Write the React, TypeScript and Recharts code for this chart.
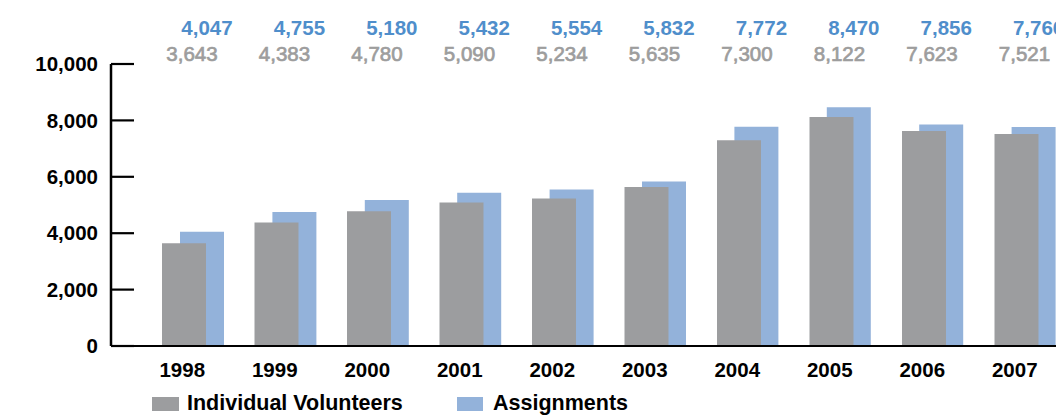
import React from 'react';
import { BarChart, Bar, XAxis, YAxis, LabelList } from 'recharts';

// values
const years = ['1998', '1999', '2000', '2001', '2002', '2003', '2004', '2005', '2006', '2007'];
const volunteers = [3643, 4383, 4780, 5090, 5234, 5635, 7300, 8122, 7623, 7521];
const assignments = [4047, 4755, 5180, 5432, 5554, 5832, 7772, 8470, 7856, 7766];
const yTicks = [0, 2000, 4000, 6000, 8000, 10000];

const data = years.map((year, i) => ({
  year,
  volunteers: volunteers[i],
  assignments: assignments[i],
}));

const FONT = '"Liberation Sans", Arial, Helvetica, sans-serif';
const GREY_BAR = '#9c9d9f';
const BLUE_BAR = '#93b2da';
const GREY_TEXT = '#9d9d9d';
const BLUE_TEXT = '#4f8ecb';

const fmt = (v: number) => v.toLocaleString('en-US');

const YTick = (props: any) => {
  const { x, y, payload } = props;
  return (
    <g>
      <line x1={x} x2={x + 23} y1={y} y2={y} stroke="#000" strokeWidth={2.2} />
      <text x={x - 13} y={y} dy="0.355em" textAnchor="end" fontFamily={FONT} fontWeight="bold" fontSize={20.5} fill="#000">
        {fmt(payload.value)}
      </text>
    </g>
  );
};

const XTick = (props: any) => {
  const { x, y, payload } = props;
  return (
    <text x={x - 2} y={y + 24} dy="0.355em" textAnchor="middle" fontFamily={FONT} fontWeight="bold" fontSize={20.5} fill="#000">
      {payload.value}
    </text>
  );
};

// value labels sit in two fixed rows above the plot
const topLabel = (yPos: number, shift: number, color: string, weight: string, thicken: number) => (props: any) => {
  const { x, width, value } = props;
  return (
    <text
      x={x + width / 2 + shift}
      y={yPos}
      dy="0.355em"
      textAnchor="middle"
      fontFamily={FONT}
      fontWeight={weight}
      fontSize={20.5}
      fill={color}
      stroke={color}
      strokeWidth={thicken}
    >
      {fmt(value)}
    </text>
  );
};

export default function App() {
  return (
    <div style={{ position: 'relative', width: 1056, height: 407, overflow: 'hidden' }}>
      <BarChart width={1100} height={407} data={data} margin={{ top: 56, right: 20, bottom: 39, left: 0 }}>
        <YAxis
          domain={[0, 10000]}
          ticks={yTicks}
          width={103}
          tickSize={0}
          tickMargin={0}
          tickLine={false}
          axisLine={{ stroke: '#000', strokeWidth: 2.5 }}
          tick={<YTick />}
          interval={0}
        />
        {/* grey bars sit on this axis, blue on a hidden shifted one */}
        <XAxis
          xAxisId="g"
          dataKey="year"
          height={30}
          padding={{ left: 27, right: 25 }}
          tickSize={0}
          tickMargin={0}
          tickLine={false}
          axisLine={{ stroke: '#000', strokeWidth: 2.2 }}
          tick={<XTick />}
          interval={0}
        />
        <XAxis xAxisId="b" dataKey="year" hide height={0} padding={{ left: 45, right: 8 }} />
        <Bar xAxisId="b" dataKey="assignments" fill={BLUE_BAR} barSize={44} isAnimationActive={false}>
          <LabelList dataKey="assignments" content={topLabel(20, 5, BLUE_TEXT, 'bold', 0)} />
        </Bar>
        <Bar xAxisId="g" dataKey="volunteers" fill={GREY_BAR} barSize={44} isAnimationActive={false}>
          <LabelList dataKey="volunteers" content={topLabel(46, 8, GREY_TEXT, 'normal', 0.7)} />
        </Bar>
      </BarChart>
      <div style={{ position: 'absolute', left: 144, top: 389, width: 27, height: 14, background: GREY_BAR }} />
      <div style={{ position: 'absolute', left: 179, top: 383, fontFamily: FONT, fontWeight: 'bold', fontSize: 21.5, lineHeight: '24px', color: '#000' }}>
        Individual Volunteers
      </div>
      <div style={{ position: 'absolute', left: 449, top: 389, width: 26, height: 14, background: BLUE_BAR }} />
      <div style={{ position: 'absolute', left: 485, top: 383, fontFamily: FONT, fontWeight: 'bold', fontSize: 21.5, lineHeight: '24px', color: '#000' }}>
        Assignments
      </div>
    </div>
  );
}
